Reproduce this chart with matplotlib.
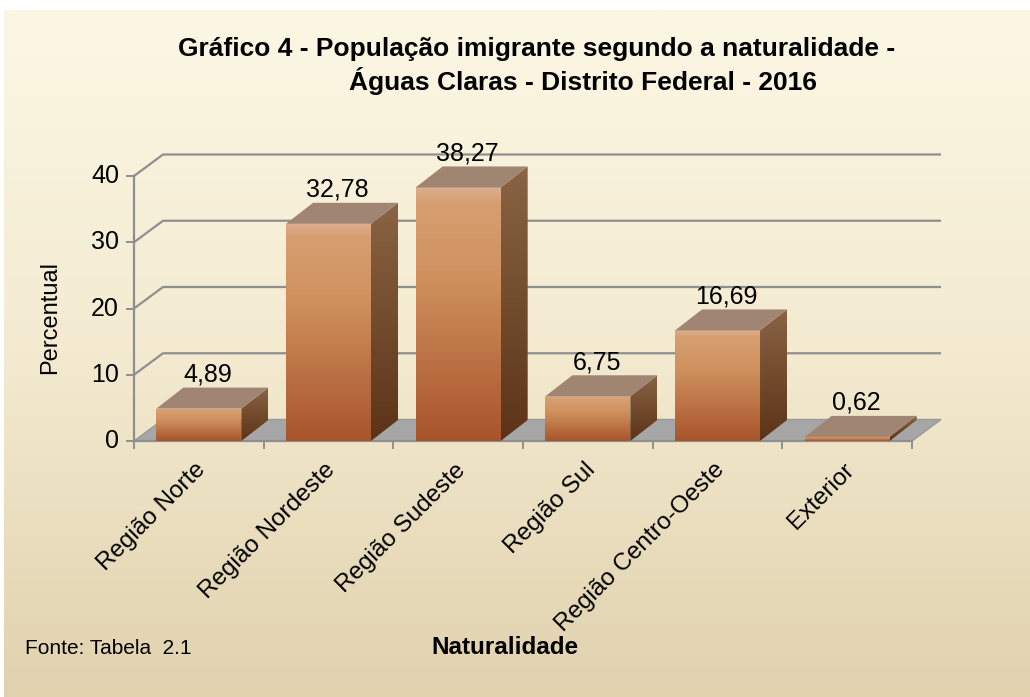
import numpy as np
import matplotlib
matplotlib.use("Agg")
import matplotlib.pyplot as plt
from matplotlib.patches import Polygon
from matplotlib.colors import LinearSegmentedColormap

plt.rcParams['font.family'] = ['Liberation Sans', 'DejaVu Sans']

# data
categorias = ["Região Norte", "Região Nordeste", "Região Sudeste",
              "Região Sul", "Região Centro-Oeste", "Exterior"]
percentual = [4.89, 32.78, 38.27, 6.75, 16.69, 0.62]
rotulos = ["4,89", "32,78", "38,27", "6,75", "16,69", "0,62"]
yticks = [0, 10, 20, 30, 40]

W, H = 1030, 697
# pixel mapping of the front plane
PX0, PX_SLOT = 134, 129.67
PY0, PY_UNIT = 441, 6.625

def px(n):  # pixels -> x data units
    return n / PX_SLOT

def py(n):  # pixels -> y data units
    return n / PY_UNIT

DX, DY = px(29), py(21.5)     # depth of the floor / walls
BDX, BDY = px(27), py(21)     # depth of the bars
BW = px(85)                   # bar width

fig = plt.figure(figsize=(W / 100, H / 100), dpi=100, facecolor='white')
ax = fig.add_axes([0, 0, 1, 1])
ax.set_axis_off()
xlim = (-PX0 / PX_SLOT, (W - PX0) / PX_SLOT)
ylim = ((PY0 - H) / PY_UNIT, PY0 / PY_UNIT)

# background gradient
bg = LinearSegmentedColormap.from_list('bg', ['#fcf7e4', '#f3ead0', '#e1d2ae'])
grad = np.linspace(0, 1, 256).reshape(-1, 1)
ax.imshow(grad, cmap=bg, aspect='auto', zorder=0,
          extent=[xlim[0] + px(4), xlim[1], ylim[0], ylim[1] - py(10)])

grid_c = '#8f8f8f'
# gridlines on side wall and back wall
for v in yticks[1:]:
    ax.plot([0, DX, 6 + DX], [v, v + DY, v + DY], color=grid_c, lw=1.6,
            zorder=1, solid_capstyle='butt')

# floor
floor = Polygon([(0, 0), (6, 0), (6 + DX, DY), (DX, DY)], closed=True,
                facecolor='#a6a6a6', edgecolor='#999999', lw=1, zorder=1)
ax.add_patch(floor)

# axes lines and ticks
ax.plot([0, 0], [0, 40], color=grid_c, lw=1.6, zorder=2)
ax.plot([0, 6], [0, 0], color=grid_c, lw=1.6, zorder=2)
for v in yticks:
    ax.plot([-px(7), 0], [v, v], color=grid_c, lw=1.4, zorder=2)
    ax.text(-px(15), v, str(v), ha='right', va='center', fontsize=18)
for k in range(7):
    ax.plot([k, k], [0, -py(7)], color=grid_c, lw=1.4, zorder=2)

front_cm = LinearSegmentedColormap.from_list(
    'front', [(0, '#dbae90'), (0.06, '#d79f70'), (0.35, '#d0915f'), (1, '#a8542a')])
side_cm = LinearSegmentedColormap.from_list('side', ['#8a6444', '#5c3317'])
top_c = '#a18573'


def grad_face(verts, cmap, z):
    poly = Polygon(verts, closed=True, facecolor='none', edgecolor='none', zorder=z)
    ax.add_patch(poly)
    xs = [p[0] for p in verts]
    ys = [p[1] for p in verts]
    im = ax.imshow(grad, cmap=cmap, aspect='auto', zorder=z,
                   extent=[min(xs), max(xs), min(ys), max(ys)])
    im.set_clip_path(poly)


for i, v in enumerate(percentual):
    c = i + 0.5
    x0, x1 = c - BW / 2, c + BW / 2
    grad_face([(x0, 0), (x1, 0), (x1, v), (x0, v)], front_cm, 3)
    grad_face([(x1, 0), (x1 + BDX, BDY), (x1 + BDX, v + BDY), (x1, v)], side_cm, 3)
    ax.add_patch(Polygon([(x0, v), (x1, v), (x1 + BDX, v + BDY), (x0 + BDX, v + BDY)],
                         closed=True, facecolor=top_c, edgecolor='none', zorder=3))
    ax.text(c + px(9), v + BDY + py(13), rotulos[i], ha='center', va='center',
            fontsize=18, zorder=4)
    ax.text(c - px(4), -py(18), categorias[i], ha='right', va='top', rotation=45,
            rotation_mode='anchor', fontsize=17.5, zorder=4)

ax.set_xlim(xlim)
ax.set_ylim(ylim)

fig.text(537 / W, 1 - 49 / H, "Gráfico 4 - População imigrante segundo a naturalidade -",
         ha='center', va='center', fontsize=19, fontweight='bold')
fig.text(583 / W, 1 - 81 / H, "Águas Claras - Distrito Federal - 2016",
         ha='center', va='center', fontsize=19, fontweight='bold')
fig.text(50 / W, 1 - 317 / H, "Percentual", rotation=90, ha='center', va='center',
         fontsize=17)
fig.text(505 / W, 1 - 648 / H, "Naturalidade", ha='center', va='center',
         fontsize=17.5, fontweight='bold')
fig.text(25 / W, 1 - 648 / H, "Fonte: Tabela  2.1", ha='left', va='center',
         fontsize=15)

fig.savefig('out.png', dpi=100, facecolor='white')
